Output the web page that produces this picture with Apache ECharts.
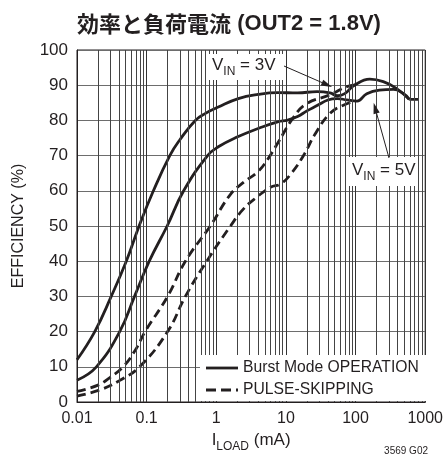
<!DOCTYPE html>
<html>
<head>
<meta charset="utf-8">
<script src="https://cdn.jsdelivr.net/npm/echarts@6/dist/echarts.min.js"></script>
<style>
  html, body { margin: 0; padding: 0; background: #fff; }
  #chart { width: 446px; height: 468px; }
</style>
</head>
<body>
<div id="chart"></div>
<script>
// Efficiency vs load current, OUT2 = 1.8V
const burst3vLoad = [0.01, 0.018, 0.031, 0.051, 0.078, 0.125, 0.215, 0.3, 0.5, 0.7, 1.07, 2.07, 4, 7.6, 14.7, 28, 43, 55, 70, 95, 160, 250, 385, 590];
const burst3vEff  = [12, 20, 30, 40, 50, 60, 70, 74.5, 80, 82, 83.8, 86.2, 87.4, 87.9, 87.8, 88.2, 87.8, 87.0, 87.6, 89.9, 91.7, 91.0, 89.1, 86.0];

const burst5vLoad = [0.01, 0.019, 0.041, 0.067, 0.109, 0.197, 0.34, 0.75, 1.07, 2.07, 4, 7.6, 10.6, 14.7, 20, 28, 40, 55, 75, 105, 145, 220, 350, 480, 590];
const burst5vEff  = [6.2, 10, 20, 30, 40, 50, 60, 70, 72.5, 75.4, 77.7, 79.6, 80.1, 81.1, 82.7, 84.2, 85.8, 86.2, 85.8, 85.5, 87.6, 88.6, 88.8, 87.7, 86.0];

const ps3vLoad = [0.01, 0.02, 0.03, 0.046, 0.07, 0.095, 0.2, 0.36, 0.82, 1.6, 2.5, 4, 5.5, 7.6, 13, 20, 42, 75, 100];
const ps3vEff  = [3, 4.8, 7, 10, 15, 20, 30, 40, 50, 59, 62.5, 65.5, 69, 73.5, 81, 84.8, 87.2, 89.6, 90.1];

const ps5vLoad = [0.01, 0.021, 0.04, 0.079, 0.2, 0.36, 0.73, 1.6, 2.5, 4, 6, 8.5, 12, 18.5, 26, 43, 68, 100];
const ps5vEff  = [1.7, 3.4, 6, 10, 20, 30, 40, 50, 55, 58.5, 61, 62, 65, 70.5, 76, 82, 84.4, 85.5];

const psTailLoad = [590, 850];
const psTailEff  = [86, 86];

const xTickValues = [0.01, 0.1, 1, 10, 100, 1000];
const xTickLabels = ['0.01', '0.1', '1', '10', '100', '1000'];
const yTickLabels = ['0', '10', '20', '30', '40', '50', '60', '70', '80', '90', '100'];

const legendNames = ['Burst Mode OPERATION', 'PULSE-SKIPPING'];

// 2..9 within every decade of the load axis
const decadeStarts = [0.01, 0.1, 1, 10, 100];
const minorGrid = [];
decadeStarts.forEach(d => { for (let k = 2; k <= 9; k++) minorGrid.push(+(d * k).toPrecision(3)); });

const FONT = '"Liberation Sans", Arial, sans-serif';
const INK = '#231f20';

const zip = (xs, ys) => xs.map((x, i) => [x, ys[i]]);

const chart = echarts.init(document.getElementById('chart'), null, { renderer: 'canvas' });

const solid = { color: INK, width: 2.8, type: 'solid' };
const dashed = { color: INK, width: 2.8, type: [9, 5] };

function curve(name, xs, ys, style) {
  return {
    name, type: 'line', data: zip(xs, ys), symbol: 'none', smooth: 0.45,
    lineStyle: style, itemStyle: { color: INK }, z: 3, silent: true
  };
}

const option = {
  animation: false,
  backgroundColor: '#fff',
  grid: { left: 77, top: 50, right: 17, bottom: 66, show: true, borderColor: INK, borderWidth: 1 },
  xAxis: {
    type: 'log', logBase: 10, min: 0.01, max: 1000,
    name: '{a|I}{s|LOAD}{a| (mA)}',
    nameLocation: 'middle', nameGap: 24,
    nameTextStyle: {
      rich: {
        a: { fontFamily: FONT, fontSize: 17, color: INK, lineHeight: 19, verticalAlign: 'top' },
        s: { fontFamily: FONT, fontSize: 12, color: INK, lineHeight: 12, padding: [9, 0, 0, 0], verticalAlign: 'top' }
      }
    },
    axisLine: { show: true, lineStyle: { color: INK, width: 1 } },
    axisTick: { show: false },
    axisLabel: {
      fontFamily: FONT, fontSize: 16, color: INK, margin: 9,
      formatter: v => {
        let best = 0;
        xTickValues.forEach((t, i) => { if (Math.abs(Math.log10(t) - Math.log10(v)) < Math.abs(Math.log10(xTickValues[best]) - Math.log10(v))) best = i; });
        return xTickLabels[best];
      }
    },
    splitLine: { show: true, lineStyle: { color: '#333', width: 1 } },
    minorTick: { show: false },
    minorSplitLine: { show: false }
  },
  yAxis: {
    type: 'value', min: 0, max: 100, interval: 10,
    name: 'EFFICIENCY (%)', nameLocation: 'middle', nameGap: 50,
    nameTextStyle: { fontFamily: FONT, fontSize: 16, color: INK },
    axisLine: { show: true, lineStyle: { color: INK, width: 1 } },
    axisTick: { show: false },
    axisLabel: {
      fontFamily: FONT, fontSize: 17, color: INK, margin: 9,
      formatter: v => yTickLabels[Math.round(v / 10)]
    },
    splitLine: { show: true, lineStyle: { color: '#6d6d6d', width: 1 } }
  },
  series: [
    {
      name: 'grid', type: 'line', data: [], silent: true, z: 1,
      markLine: {
        silent: true, symbol: 'none', label: { show: false },
        lineStyle: { color: '#444', width: 1, type: 'solid' },
        emphasis: { disabled: true },
        data: minorGrid.map(v => ({ xAxis: v }))
      }
    },
    curve(legendNames[0], burst3vLoad, burst3vEff, solid),
    curve(legendNames[0], burst5vLoad, burst5vEff, solid),
    curve(legendNames[1], ps3vLoad, ps3vEff, dashed),
    curve(legendNames[1], ps5vLoad, ps5vEff, dashed),
    curve(legendNames[1], psTailLoad, psTailEff, dashed)
  ]
};

chart.setOption(option);

// Annotation layer: label boxes, arrows, legend, title
function arrow(from, to) {
  const dx = to[0] - from[0], dy = to[1] - from[1];
  const len = Math.hypot(dx, dy), ux = dx / len, uy = dy / len;
  const hl = 11, hw = 3.2;
  const bx = to[0] - ux * hl, by = to[1] - uy * hl;
  return [
    { type: 'line', zlevel: 1, z: 5, silent: true,
      shape: { x1: from[0], y1: from[1], x2: bx, y2: by },
      style: { stroke: INK, lineWidth: 1 } },
    { type: 'polygon', zlevel: 1, z: 5, silent: true,
      shape: { points: [[to[0], to[1]], [bx - uy * hw, by + ux * hw], [bx + uy * hw, by - ux * hw]] },
      style: { fill: INK } }
  ];
}

const vinRich = {
  v: { fontFamily: FONT, fontSize: 17, fill: INK, lineHeight: 18, verticalAlign: 'top' },
  s: { fontFamily: FONT, fontSize: 12, fill: INK, lineHeight: 12, padding: [9, 0, 0, 0], verticalAlign: 'top' }
};

const tip3 = chart.convertToPixel({ gridIndex: 0 }, [46, 89.5]);
const tip5 = chart.convertToPixel({ gridIndex: 0 }, [182, 85]);

chart.setOption({
  graphic: [
    { type: 'text', zlevel: 1, z: 6, silent: true, x: 229, y: 24,
      style: {
        text: '{c|効率と負荷電流}{l| (OUT2 = 1.8V)}',
        align: 'center', verticalAlign: 'middle',
        rich: {
          c: { fontFamily: '"Noto Sans CJK JP", sans-serif', fontWeight: 'bold', fontSize: 22, fill: INK },
          l: { fontFamily: FONT, fontWeight: 'bold', fontSize: 22, fill: INK }
        }
      } },
    // legend
    { type: 'rect', zlevel: 1, z: 4, silent: true, shape: { x: 200, y: 355, width: 228, height: 46 }, style: { fill: '#fff' } },
    { type: 'line', zlevel: 1, z: 5, silent: true, shape: { x1: 206, y1: 368, x2: 238, y2: 368 },
      style: { stroke: INK, lineWidth: 2.8 } },
    { type: 'text', zlevel: 1, z: 6, silent: true, x: 243, y: 368,
      style: { text: legendNames[0], fontFamily: FONT, fontSize: 15.7, fill: INK, verticalAlign: 'middle' } },
    { type: 'line', zlevel: 1, z: 5, silent: true, shape: { x1: 206, y1: 390, x2: 238, y2: 390 },
      style: { stroke: INK, lineWidth: 2.8, lineDash: [10, 5] } },
    { type: 'text', zlevel: 1, z: 6, silent: true, x: 243, y: 390,
      style: { text: legendNames[1], fontFamily: FONT, fontSize: 15.7, fill: INK, verticalAlign: 'middle' } },
    // VIN = 3V label
    { type: 'rect', zlevel: 1, z: 4, silent: true, shape: { x: 209, y: 54, width: 75, height: 26 }, style: { fill: '#fff' } },
    { type: 'text', zlevel: 1, z: 6, silent: true, x: 212, y: 57,
      style: { text: '{v|V}{s|IN}{v| = 3V}', rich: vinRich } },
    // VIN = 5V label
    { type: 'rect', zlevel: 1, z: 4, silent: true, shape: { x: 349, y: 157, width: 69, height: 29 }, style: { fill: '#fff' } },
    { type: 'text', zlevel: 1, z: 6, silent: true, x: 352, y: 162,
      style: { text: '{v|V}{s|IN}{v| = 5V}', rich: vinRich } },
    ...arrow([284, 66], tip3),
    ...arrow([389, 158], tip5),
    { type: 'text', zlevel: 1, z: 6, silent: true, x: 428, y: 451,
      style: { text: '3569 G02', align: 'right', verticalAlign: 'middle', fontFamily: FONT, fontSize: 10, fill: INK } }
  ]
});
</script>
</body>
</html>
